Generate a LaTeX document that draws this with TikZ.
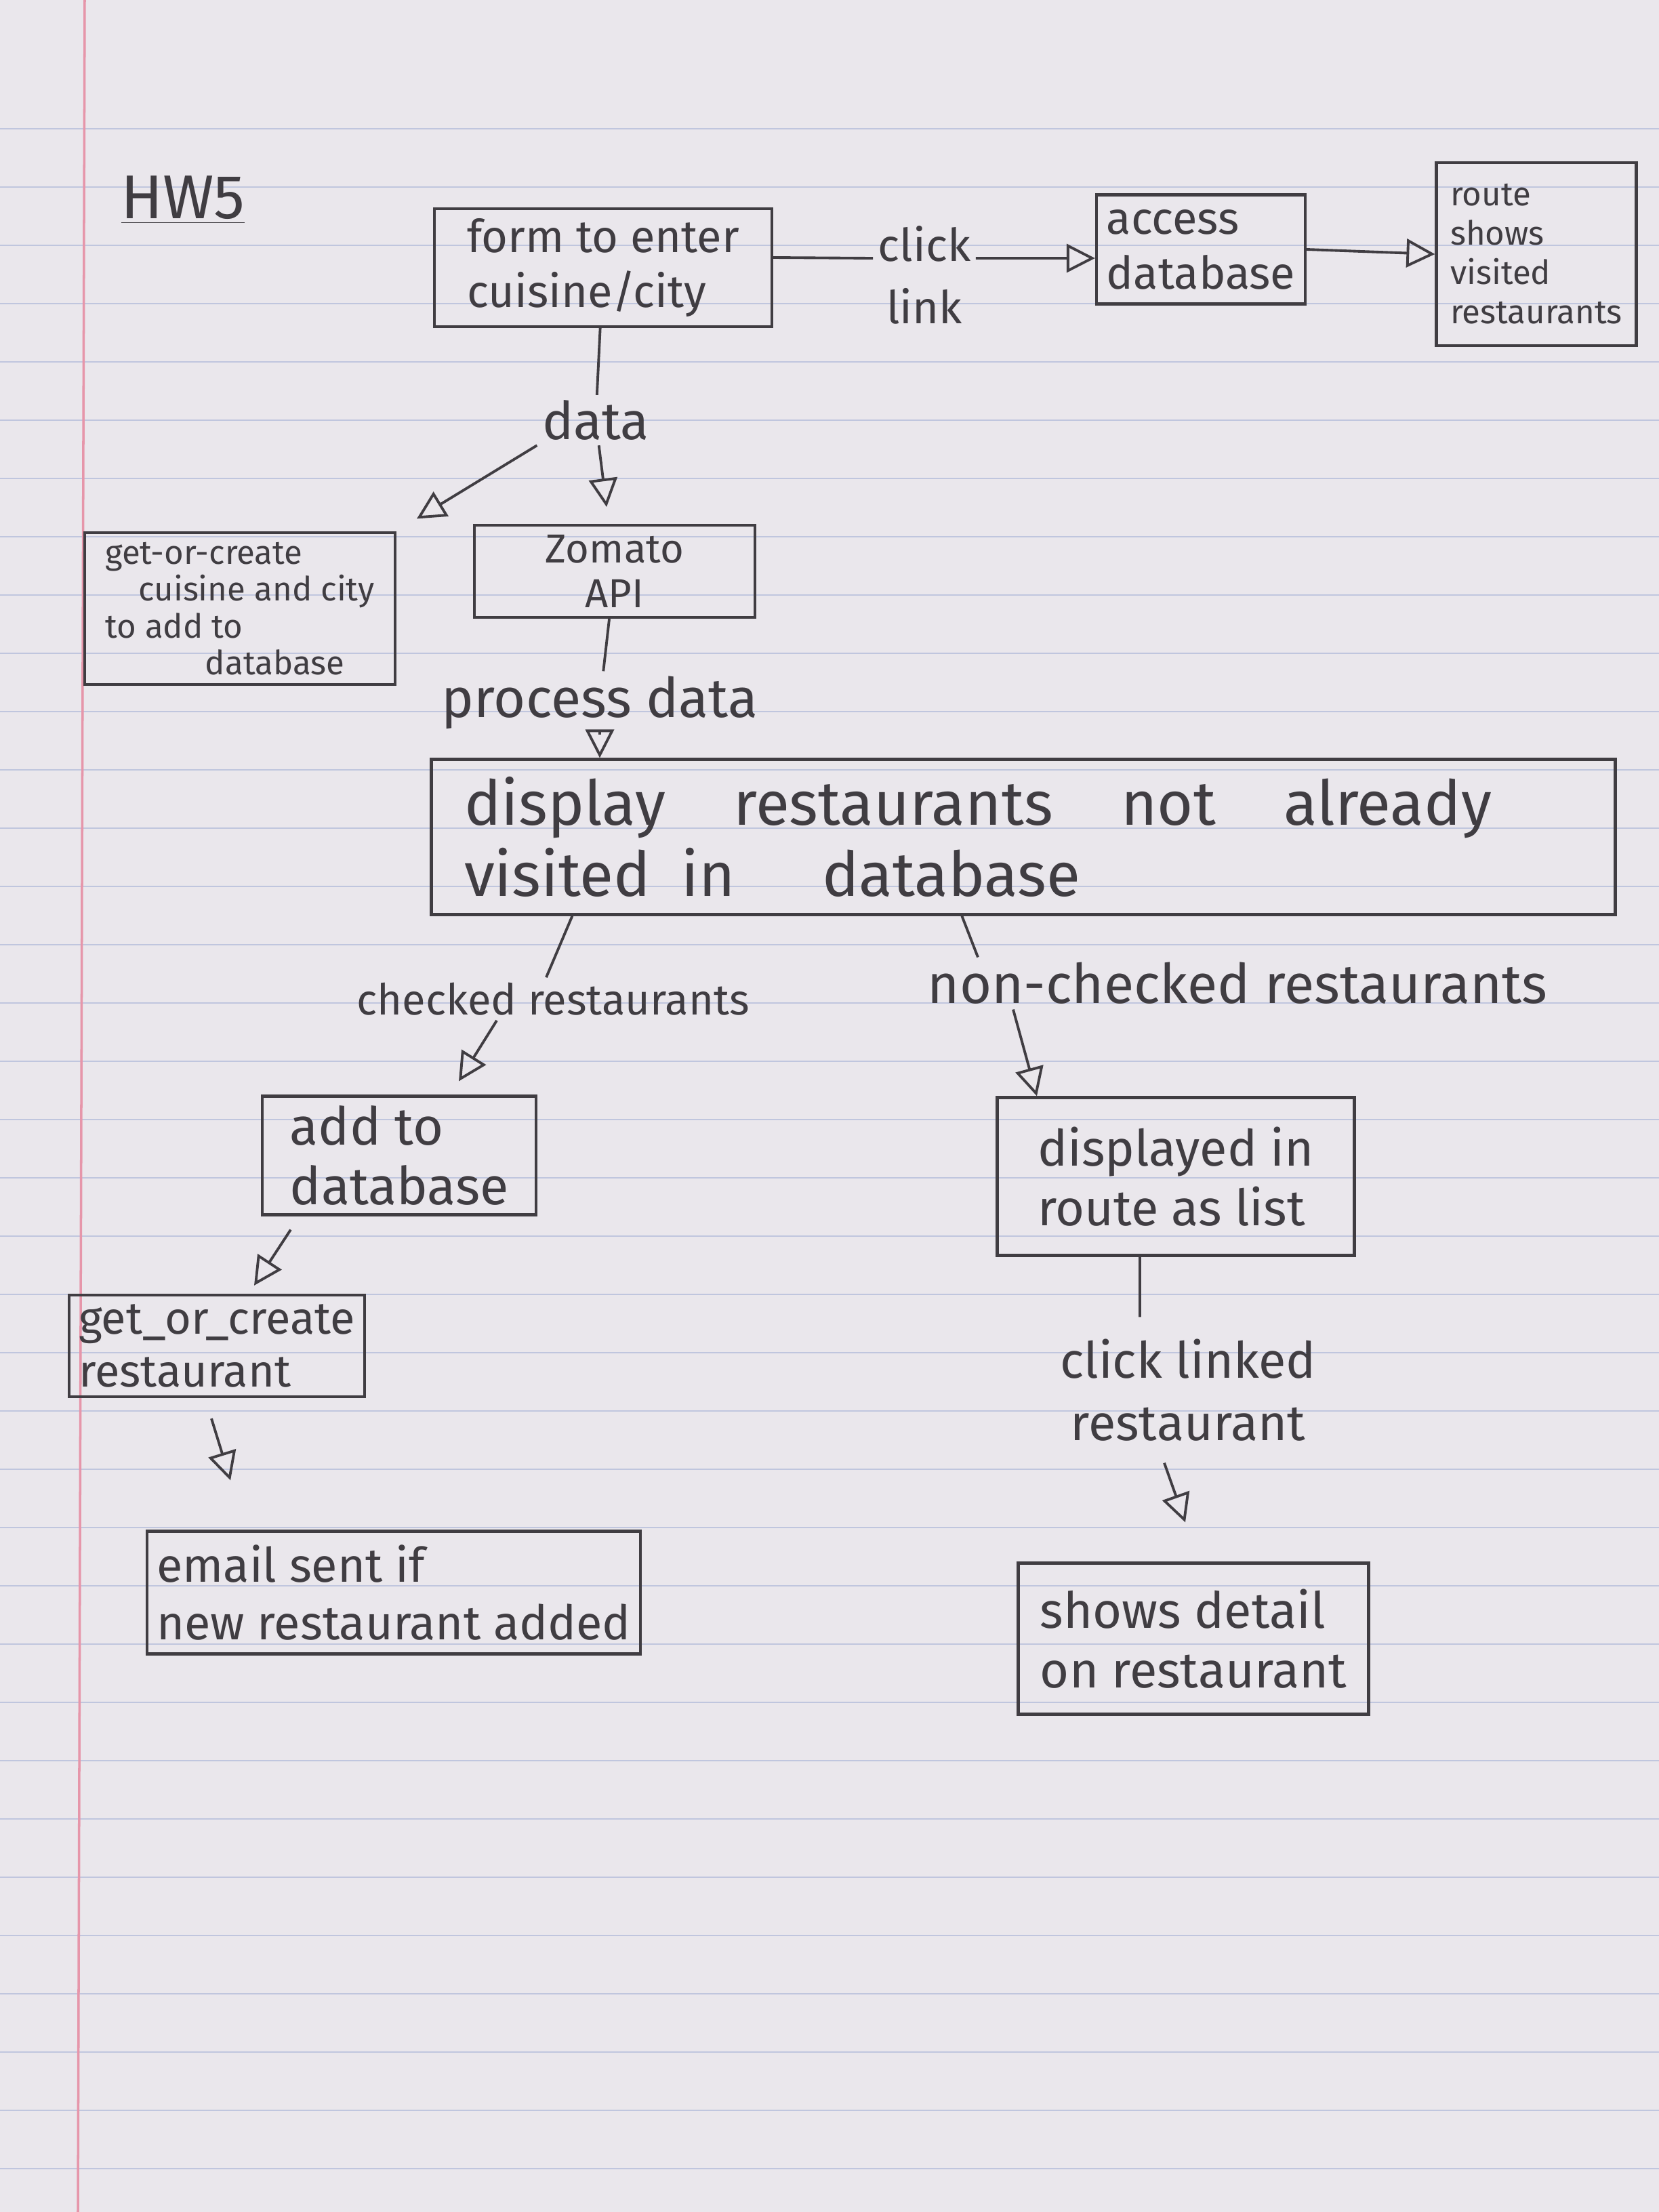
\documentclass[tikz,border=0pt]{standalone}
\usepackage{fontspec}
\setmainfont{Fira Sans}
\usepackage{xcolor}
\usepackage{tikz}
\usetikzlibrary{arrows.meta,positioning}
\definecolor{paperBg}{RGB}{234,231,236}
\definecolor{ruleBlue}{RGB}{192,198,222}
\definecolor{marginRed}{RGB}{230,150,170}
\definecolor{pencil}{RGB}{64,61,66}
\newcommand{\handsize}[2]{\fontsize{#1}{#2}\selectfont}

\begin{document}
\begin{tikzpicture}[
  box/.style 2 args={draw=pencil, line width=1.2pt, text=pencil, align=left,
    inner sep=4pt, minimum width=#1, minimum height=#2},
  lbl/.style={text=pencil, align=center, inner sep=2pt},
  link/.style={draw=pencil, line width=1.1pt},
  flow/.style={draw=pencil, line width=1.1pt,
    -{Triangle[open, length=0.42cm, width=0.42cm]}}
]
\useasboundingbox (0,0) rectangle (24.48,-32.64);
\fill[paperBg] (0,0) rectangle (24.48,-32.64);
% ruled paper
\foreach \y in {1.9,2.76,...,32.6}
  \draw[ruleBlue, line width=0.7pt] (0,-\y) -- (24.48,-\y);
\draw[marginRed, line width=1pt] (1.25,0) -- (1.15,-32.64);

\node[lbl, font=\handsize{26}{30}] (title) at (2.70,-2.95) {\underline{HW5}};

% top row
\node[box={4.98cm}{1.67cm}, font=\handsize{19}{23}] (form) at (8.90,-3.95) {form to enter\\cuisine/city};
\node[lbl, font=\handsize{19}{26}] (clicklink) at (13.64,-4.06) {click\\link};
\node[box={3.08cm}{1.61cm}, font=\handsize{19}{23}] (access) at (17.72,-3.68) {access\\database};
\node[box={2.95cm}{2.70cm}, font=\handsize{14}{16.5}] (route) at (22.67,-3.75) {route\\shows\\visited\\restaurants};

\draw[link] ([yshift=0.15cm]form.east) -- ([yshift=0.25cm]clicklink.west);
\draw[flow] ([yshift=0.25cm]clicklink.east) -- ([yshift=-0.13cm]access.west);
\draw[flow] (access.east) -- (route.west);

% data and API
\node[lbl, font=\handsize{22}{26}] (data) at (8.79,-6.20) {data};
\node[box={4.58cm}{2.15cm}, font=\handsize{14}{15.5}] (getcc) at (3.54,-8.98) {get-or-create\\\quad cuisine and city\\to add to\\\qquad\quad database};
\node[box={4.14cm}{1.25cm}, font=\handsize{17}{19}, align=center] (zomato) at (9.07,-8.43) {Zomato\\API};
\node[lbl, font=\handsize{23}{27}] (process) at (8.85,-10.37) {process data};
\node[box={17.47cm}{2.29cm}, font=\handsize{26}{30}, inner xsep=0.46cm, text width=16.5cm] (display) at (15.10,-12.35)
  {display\hspace{1.1em}restaurants\hspace{1.1em}not\hspace{1.1em}already\\visited\hspace{0.5em}in\hspace{1.4em}database};

\draw[link] (form) -- (data);
\draw[flow, shorten >=0.25cm] (data) -- (zomato);
\draw[flow, shorten >=0.35cm] (data.south west) -- (getcc.north east);
\draw[link] (zomato) -- (process);
\draw[flow] (process.south) -- (process.south |- display.north);

% split
\node[lbl, font=\handsize{18}{22}] (checked) at (8.16,-14.74) {checked restaurants};
\node[lbl, font=\handsize{23}{27}] (nonchecked) at (18.26,-14.51) {non-checked restaurants};
\draw[link] ([xshift=2.1cm]display.south west) -- ([xshift=-0.1cm]checked.north);
\draw[link] ([xshift=7.85cm]display.south west) -- ([xshift=-3.83cm]nonchecked.north);

% checked branch
\node[box={4.04cm}{1.62cm}, font=\handsize{22}{25}] (addto) at (5.89,-17.05) {add to\\database};
\node[box={3.91cm}{1.50cm}, font=\handsize{19}{22}] (getrest) at (3.20,-19.86) {get\_or\_create\\restaurant};
\node[box={7.12cm}{1.81cm}, font=\handsize{20}{24}] (email) at (5.81,-23.50) {email sent if\\new restaurant added};
\draw[flow] ([xshift=-0.83cm]checked.south) -- ([xshift=0.88cm,yshift=0.2cm]addto.north);
\draw[flow] ([xshift=0.44cm,yshift=-0.2cm]addto.south west) -- ([xshift=0.55cm,yshift=0.12cm]getrest.north);
\draw[flow] ([xshift=-0.08cm,yshift=-0.3cm]getrest.south) -- ([xshift=1.25cm,yshift=0.73cm]email.north west);

% non-checked branch
\node[box={5.27cm}{2.33cm}, font=\handsize{21}{25}] (displayed) at (17.35,-17.36) {displayed in\\route as list};
\node[lbl, font=\handsize{21}{26}] (clicklinked) at (17.53,-20.51) {click linked\\restaurant};
\node[box={5.17cm}{2.23cm}, font=\handsize{21}{25}] (shows) at (17.61,-24.18) {shows detail\\on restaurant};
\draw[flow] ([xshift=-3.31cm]nonchecked.south) -- ([xshift=-2.05cm]displayed.north);
\draw[link] ([xshift=-0.53cm]displayed.south) -- ([xshift=-0.71cm,yshift=0.25cm]clicklinked.north);
\draw[flow] ([xshift=-0.35cm,yshift=-0.25cm]clicklinked.south) -- ([xshift=-0.12cm,yshift=0.58cm]shows.north);
\end{tikzpicture}
\end{document}
